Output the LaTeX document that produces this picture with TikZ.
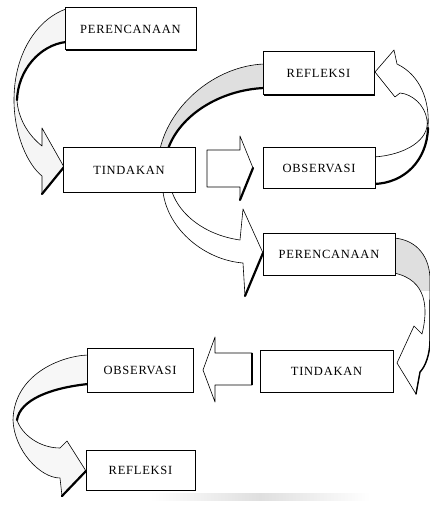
\documentclass[tikz,border=0pt]{standalone}
\usepackage{fontspec}
\newfontfamily\boxfont{Liberation Serif}[LetterSpace=6]
\usetikzlibrary{shadows}
\begin{document}
\begin{tikzpicture}[x=1pt,y=-1pt,
  box/.style={draw=black, line width=1pt, fill=white, inner sep=0pt,
    font=\boxfont\fontsize{12.5}{14}\selectfont,
    drop shadow={shadow xshift=1.2pt, shadow yshift=-1.4pt, fill=black, opacity=1}},
  ribbon/.style={draw=black, line width=0.6pt, line join=round},
  heavy/.style={draw=black, line width=2.2pt, line cap=round}]
\useasboundingbox (0,0) rectangle (429,505);

% faint scan band at bottom
\shade[left color=white, right color=white, middle color=gray!25] (150,493) rectangle (370,500);

% Arrow A: PERENCANAAN (top) -> TINDAKAN
\draw[ribbon, fill=gray!8] (66,9) .. controls (40,18) and (14,50) .. (14,100)
  .. controls (14,135) and (28,165) .. (42,176) -- (42,194) -- (64,167) -- (42,128) -- (42,146)
  .. controls (28,135) and (18,118) .. (17,100) .. controls (18,70) and (40,45) .. (66,42);
\draw[heavy] (66,42) .. controls (40,45) and (18,70) .. (17,100);
\draw[heavy] (42,194) -- (64,167);

% Arrow B: TINDAKAN -> REFLEKSI (upper)
\draw[ribbon, fill=gray!25] (160,149) .. controls (170,105) and (215,66) .. (264,64) -- (264,88)
  .. controls (220,90) and (180,115) .. (168,149) -- cycle;
\draw[heavy] (168,149) .. controls (180,115) and (220,90) .. (264,88);

% Arrow C: OBSERVASI (upper) -> REFLEKSI (upper)
\draw[ribbon, fill=white] (375,72) -- (394,50) -- (397,64) .. controls (420,75) and (430,100) .. (428,128)
  .. controls (427,160) and (405,183) .. (374,184) -- (374,157)
  .. controls (405,155) and (430,140) .. (427,120) .. controls (425,105) and (412,94) .. (400,93)
  -- (395,97) -- cycle;
\draw[heavy] (428,128) .. controls (427,160) and (405,183) .. (374,184);

% Arrow D: TINDAKAN -> PERENCANAAN (middle)
\draw[ribbon, fill=white] (163,192) .. controls (168,230) and (205,260) .. (243,263) -- (245,296) -- (263,253)
  -- (243,209) -- (240,240) .. controls (205,235) and (180,215) .. (172,192) -- cycle;
\draw[heavy] (245,296) -- (263,253);

% Arrow E: PERENCANAAN (middle) -> TINDAKAN (bottom)
\def\ribbonE{(394,238) .. controls (418,240) and (430,258) .. (430,280) -- (430,340)
  .. controls (430,355) and (425,367) .. (420,372) -- (416,394) -- (397,363) -- (414,326) -- (422,334)
  .. controls (428,310) and (428,280) .. (394,273) -- cycle}
\fill[white] \ribbonE;
\begin{scope}
  \clip (390,230) rectangle (435,290);
  \fill[gray!25] \ribbonE;
\end{scope}
\draw[ribbon] \ribbonE;
\draw[line width=1.4pt, line cap=round] (430,300) -- (430,340) .. controls (430,355) and (425,367) .. (420,372) -- (416,394);

% Arrow F: OBSERVASI (bottom) -> REFLEKSI (bottom)
\draw[ribbon, fill=gray!6] (88,355) .. controls (60,356) and (14,375) .. (13,420)
  .. controls (14,450) and (40,478) .. (60,478) -- (62,496) -- (86,471) -- (67,441) -- (60,448)
  .. controls (40,448) and (22,435) .. (17,420) .. controls (20,400) and (50,388) .. (88,384) -- cycle;
\draw[heavy] (17,420) .. controls (20,400) and (50,388) .. (88,384);
\draw[heavy] (62,496) -- (86,471);

% straight arrow G: TINDAKAN -> OBSERVASI
\draw[ribbon, fill=white] (207,150) -- (240,150) -- (240,136) -- (253,168) -- (240,200) -- (240,187) -- (207,187) -- cycle;
\draw[heavy] (253,168) -- (240,200);

% straight arrow H: TINDAKAN (bottom) -> OBSERVASI (bottom)
\draw[ribbon, fill=white] (252,353) -- (215,353) -- (215,337) -- (203,370) -- (215,402) -- (215,385) -- (252,385) -- cycle;
\draw[line width=1.6pt] (252,353) -- (252,385);

% boxes
\node[box, minimum width=131pt, minimum height=42pt] (p1) at (130.5,29) {PERENCANAAN};
\node[box, minimum width=132pt, minimum height=44pt] (t1) at (129,170) {TINDAKAN};
\node[box, minimum width=111pt, minimum height=43pt] (r1) at (318.5,73.5) {REFLEKSI};
\node[box, minimum width=112pt, minimum height=40pt] (o1) at (319,168) {OBSERVASI};
\node[box, minimum width=132pt, minimum height=42pt] (p2) at (329,254) {PERENCANAAN};
\node[box, minimum width=133pt, minimum height=42pt] (t2) at (326.5,371) {TINDAKAN};
\node[box, minimum width=106pt, minimum height=44pt] (o2) at (140,370) {OBSERVASI};
\node[box, minimum width=109pt, minimum height=40pt] (r2) at (140.5,470) {REFLEKSI};
\end{tikzpicture}
\end{document}
